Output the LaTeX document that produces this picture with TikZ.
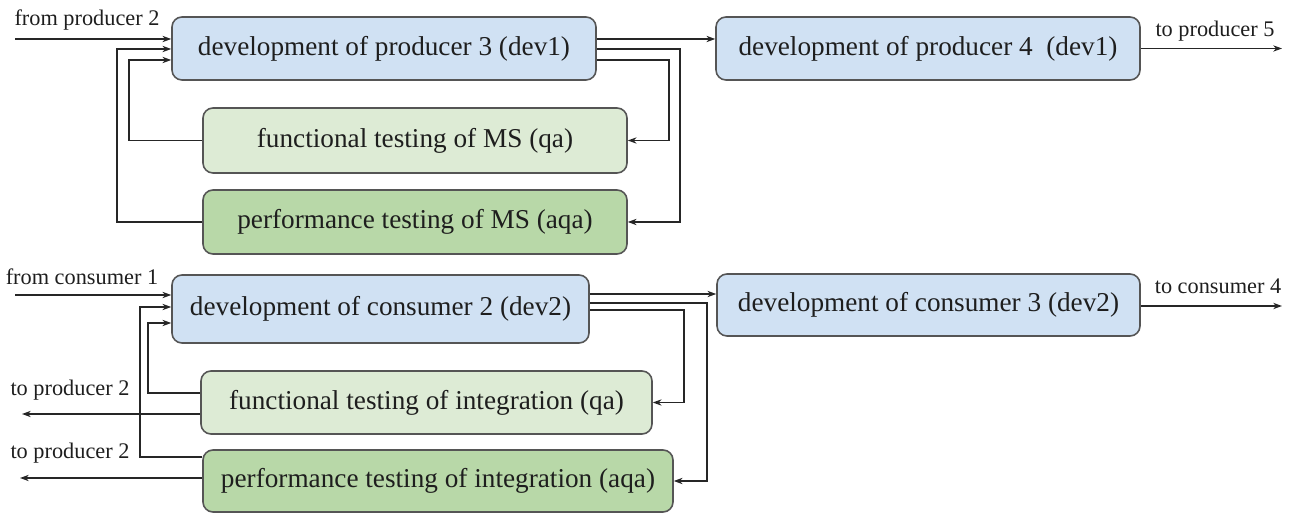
\documentclass[tikz,border=0pt]{standalone}
\usepackage{fontspec}
\setmainfont{Liberation Serif}
\usetikzlibrary{arrows.meta,calc}
\definecolor{devblue}{RGB}{208,225,243}
\definecolor{qagreen}{RGB}{221,235,213}
\definecolor{aqagreen}{RGB}{184,216,168}
\definecolor{edgegray}{RGB}{85,85,85}
\definecolor{txt}{RGB}{30,30,30}
\tikzset{
  box/.style 2 args={draw=edgegray, line width=0.9pt, rounded corners=0.2cm,
    minimum width=#1*0.02cm, minimum height=#2*0.02cm, inner sep=0pt,
    font=\fontsize{15.5}{18}\selectfont, text=txt},
  devbox/.style={fill=devblue},
  qabox/.style={fill=qagreen},
  aqabox/.style={fill=aqagreen},
  arr/.style={draw=black!85, line width=0.75pt, -{Stealth[length=5pt,width=3.6pt]}},
  lbl/.style={font=\fontsize{12.7}{15}\selectfont, text=txt, inner sep=0pt}
}
\begin{document}
\begin{tikzpicture}[x=0.02cm,y=-0.02cm]
\useasboundingbox (0,0) rectangle (1289,513);
% ---------- top section ----------
\node[box={424}{63}, devbox] (p3) at (384,48.5) {development of producer 3 (dev1)};
\node[box={424}{63}, devbox] (p4) at (928,48.5) {development of producer 4\ \ (dev1)};
\node[box={424}{65}, qabox] (fMS) at (415,140.5) {functional testing of MS (qa)};
\node[box={424}{64}, aqabox] (pMS) at (415,222) {performance testing of MS (aqa)};

\coordinate (fp2) at (15,39);
\node[lbl] (lfp2) at (87,20) {from producer 2};
\draw[arr] (fp2) -- (fp2 -| p3.west);
\draw[arr] (pMS.west) -| (117,49) -- (p3.west |- 117,49);
\draw[arr] (fMS.west) -| (129,60) -- (p3.west |- 129,60);

\draw[arr] (p3.east |- 0,39) -- (p4.west |- 0,39);
\draw[arr] (p3.east |- 0,49) -| (680,222) -- (pMS.east);
\draw[arr] (p3.east |- 0,60) -| (669,140.5) -- (fMS.east);

\coordinate (tp5) at (1282,48.5);
\draw[arr] (p4.east) -- (tp5);
\node[lbl] (ltp5) at (1215,31) {to producer 5};

% ---------- bottom section ----------
\node[box={417}{68}, devbox] (c2) at (380.5,309) {development of consumer 2 (dev2)};
\node[box={423}{62}, devbox] (c3) at (928.5,305) {development of consumer 3 (dev2)};
\node[box={451}{63}, qabox] (fI) at (426.5,402.5) {functional testing of integration (qa)};
\node[box={470}{62}, aqabox] (pI) at (438,481) {performance testing of integration (aqa)};

\coordinate (fc1) at (15,295);
\node[lbl] (lfc1) at (82,277) {from consumer 1};
\draw[arr] (fc1) -- (fc1 -| c2.west);
\draw[arr] ($(pI.west)+(0,-24)$) -| (140,307) -- (c2.west |- 140,307);
\draw[arr] ($(fI.west)+(0,-9.5)$) -| (148,323) -- (c2.west |- 148,323);

\coordinate (tpA) at (22,414);
\coordinate (tpB) at (20,478);
\draw[arr] (fI.west |- tpA) -- (tpA);
\draw[arr] (pI.west |- tpB) -- (tpB);
\node[lbl] (ltpA) at (70,390) {to producer 2};
\node[lbl] (ltpB) at (70,453) {to producer 2};

\draw[arr] (c2.east |- 0,294) -- (c3.west |- 0,294);
\draw[arr] (c2.east |- 0,303) -| (707,481) -- (pI.east);
\draw[arr] (c2.east |- 0,310) -| (684,402.5) -- (fI.east);

\coordinate (tc4) at (1282,306);
\draw[arr] (c3.east |- tc4) -- (tc4);
\node[lbl] (ltc4) at (1218,286) {to consumer 4};
\end{tikzpicture}
\end{document}
